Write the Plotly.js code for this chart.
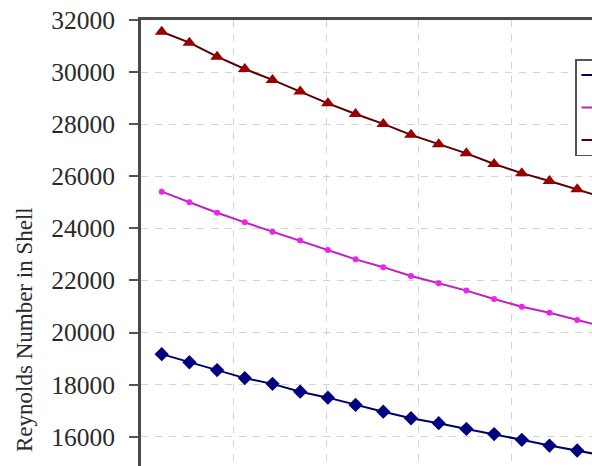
<!DOCTYPE html>
<html>
<head>
<meta charset="utf-8">
<script src="https://cdn.plot.ly/plotly-3.0.1.min.js"></script>
<style>
  html, body { margin: 0; padding: 0; overflow: hidden; background: #fff; }
  #chart { width: 660px; height: 466px; }
</style>
</head>
<body>
<div id="chart"></div>
<script>
// Point index along the (unlabelled, cropped) x axis
const pointIndex = [1, 2, 3, 4, 5, 6, 7, 8, 9, 10, 11, 12, 13, 14, 15, 16, 17];

// Reynolds number in shell
const seriesBlue = [19170, 18860, 18560, 18250, 18030, 17730, 17500, 17220, 16960,
                    16710, 16520, 16300, 16100, 15880, 15660, 15470, 15270];
const seriesMagenta = [25410, 25000, 24600, 24230, 23870, 23530, 23170, 22810, 22510,
                       22170, 21890, 21610, 21290, 20990, 20760, 20480, 20210];
const seriesRed = [31550, 31130, 30590, 30120, 29700, 29250, 28800, 28390, 28010,
                   27590, 27230, 26880, 26470, 26120, 25820, 25500, 25170];

const yTicks = [16000, 18000, 20000, 22000, 24000, 26000, 28000, 30000, 32000];
const yTitle = 'Reynolds Number in Shell';
const seriesNames = [' ', ' ', ' '];

const W = 660, H = 466, ML = 141, MT = 20;
const pxPerPoint = 27.7;
const pxPer2000 = 52.09;
const xMin = 1 - 20.7 / pxPerPoint;
const xMax = xMin + (W - ML) / pxPerPoint;
const yMax = 32000;
const yMin = yMax - (H - MT) / pxPer2000 * 2000;

const serif = 'Liberation Serif, Times New Roman, serif';

const traces = [
  {
    x: pointIndex, y: seriesBlue, name: seriesNames[0], legendgroup: 'a',
    mode: 'lines+markers', type: 'scatter',
    line: { color: '#000066', width: 2 },
    marker: { symbol: 'diamond', size: 11, color: '#000080' }
  },
  {
    x: pointIndex, y: seriesMagenta, name: seriesNames[1], legendgroup: 'b',
    mode: 'lines+markers', type: 'scatter',
    line: { color: '#c020c0', width: 2 },
    marker: { symbol: 'circle', size: 6, color: '#ee22ee' }
  },
  {
    x: pointIndex, y: seriesRed, name: seriesNames[2], legendgroup: 'c',
    mode: 'lines+markers', type: 'scatter',
    line: { color: '#5a0000', width: 2 },
    marker: { symbol: 'triangle-up', size: 12, color: '#990000' }
  }
];

const layout = {
  width: W, height: H,
  margin: { l: ML, r: 0, t: MT, b: 0, autoexpand: false },
  paper_bgcolor: '#ffffff', plot_bgcolor: '#ffffff',
  showlegend: true,
  legend: {
    x: (575 - ML) / (W - ML), xanchor: 'left',
    y: 1 - (59 - MT) / (H - MT), yanchor: 'top',
    bgcolor: '#ffffff', bordercolor: '#555555', borderwidth: 1.5,
    font: { family: serif, size: 11, color: '#222' },
    itemwidth: 46,
    traceorder: 'grouped', tracegroupgap: 13.5
  },
  xaxis: {
    side: 'top',
    range: [xMin, xMax],
    showticklabels: false, ticks: '',
    tickmode: 'linear', tick0: xMin, dtick: 92.5 / pxPerPoint,
    showgrid: true, gridcolor: '#d4d4d4', gridwidth: 1, griddash: '7px,7px',
    showline: true, linecolor: '#4a4a4a', linewidth: 3,
    zeroline: false, fixedrange: true
  },
  yaxis: {
    range: [yMin, yMax],
    tickmode: 'array', tickvals: yTicks, ticktext: yTicks.map(String),
    ticks: 'outside', ticklen: 9, tickwidth: 2, tickcolor: '#555555',
    tickfont: { family: serif, size: 25.5, color: '#2a2a2a' },
    ticklabelstandoff: 9,
    showgrid: true, gridcolor: '#d4d4d4', gridwidth: 1, griddash: '7px,7px',
    showline: true, linecolor: '#4a4a4a', linewidth: 3,
    zeroline: false, fixedrange: true
  },
  annotations: [{
    text: yTitle, textangle: -90,
    xref: 'paper', yref: 'paper',
    x: (24 - ML) / (W - ML), xanchor: 'center',
    y: 1 - (330 - MT) / (H - MT), yanchor: 'middle',
    showarrow: false,
    font: { family: serif, size: 23, color: '#2a2a2a' }
  }]
};

Plotly.newPlot('chart', traces, layout, { displayModeBar: false, staticPlot: true });
</script>
</body>
</html>
